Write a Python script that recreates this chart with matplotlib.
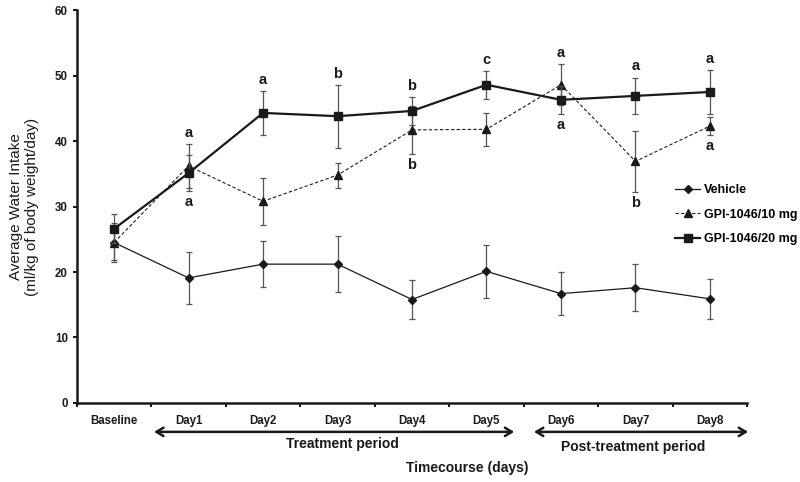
import numpy as np
import matplotlib
matplotlib.use("Agg")
import matplotlib.pyplot as plt
import matplotlib.transforms as mtransforms

plt.rcParams["font.family"] = ["Liberation Sans", "DejaVu Sans"]

days = ["Baseline", "Day1", "Day2", "Day3", "Day4", "Day5", "Day6", "Day7", "Day8"]

vehicle = [24.5, 19.1, 21.2, 21.2, 15.8, 20.1, 16.7, 17.6, 15.9]
vehicle_err = [3.0, 4.0, 3.5, 4.3, 3.0, 4.0, 3.3, 3.6, 3.1]

gpi10 = [24.5, 36.2, 30.8, 34.8, 41.7, 41.8, 48.6, 36.9, 42.3]
gpi10_err = [2.7, 3.3, 3.6, 1.9, 3.7, 2.5, 3.1, 4.7, 1.4]

gpi20 = [26.6, 35.1, 44.3, 43.8, 44.6, 48.6, 46.3, 46.9, 47.5]
gpi20_err = [2.2, 2.7, 3.4, 4.8, 2.1, 2.1, 2.1, 2.8, 3.3]

# (day index, series, side, letter)
letters = [
    (1, "g10", "top", "a"), (1, "g20", "bottom", "a"),
    (2, "g20", "top", "a"),
    (3, "g20", "top", "b"),
    (4, "g20", "top", "b"), (4, "g10", "bottom", "b"),
    (5, "g20", "top", "c"),
    (6, "g10", "top", "a"), (6, "g20", "bottom", "a"),
    (7, "g20", "top", "a"), (7, "g10", "bottom", "b"),
    (8, "g20", "top", "a"), (8, "g10", "bottom", "a"),
]

ink = "#1a1a1a"
x = np.arange(len(days))

fig = plt.figure(figsize=(8, 4.82), dpi=100)
ax = fig.add_axes([0.096, 0.164, 0.838, 0.815])

err_kw = dict(ecolor="#555555", elinewidth=0.9, capsize=2.5, capthick=0.9)
c_veh = ax.errorbar(x, vehicle, yerr=vehicle_err, color=ink, lw=0.9, marker="D",
                    ms=4.5, zorder=3, **err_kw)
c_10 = ax.errorbar(x, gpi10, yerr=gpi10_err, color=ink, lw=0.8, ls=(0, (3, 2)),
                   marker="^", ms=6, zorder=4, **err_kw)
c_20 = ax.errorbar(x, gpi20, yerr=gpi20_err, color=ink, lw=1.6, marker="s",
                   ms=5.5, zorder=5, **err_kw)

series = {"g10": (gpi10, gpi10_err), "g20": (gpi20, gpi20_err)}
for i, key, side, letter in letters:
    vals, errs = series[key]
    if side == "top":
        y, dy = vals[i] + errs[i], 8
    else:
        y, dy = vals[i] - errs[i], -8
    ax.annotate(letter, (i, y), xytext=(0, dy), textcoords="offset points",
                ha="center", va="center", fontsize=10.5, fontweight="bold",
                color=ink)

ax.set_xlim(-0.5, len(days) - 0.5)
ax.set_ylim(0, 60)
ax.set_yticks(np.arange(0, 61, 10))
ax.set_xticks(np.arange(-0.5, len(days), 1))
ax.set_xticklabels([])
ax.set_xticks(x, minor=True)
ax.set_xticklabels(days, minor=True)
ax.tick_params(axis="x", which="major", length=3, width=1.5, color=ink)
ax.tick_params(axis="x", which="minor", length=0, pad=9, labelsize=8.3)
ax.tick_params(axis="y", length=3, width=1.5, color=ink, labelsize=8.3)
for lab in ax.get_xticklabels(minor=True) + ax.get_yticklabels():
    lab.set_fontweight("bold")
    lab.set_color(ink)

for side in ["top", "right"]:
    ax.spines[side].set_visible(False)
for side in ["left", "bottom"]:
    ax.spines[side].set_linewidth(1.8)
    ax.spines[side].set_color(ink)

ax.set_ylabel("Average Water Intake\n(ml/kg of body weight/day)", fontsize=11,
              color=ink, labelpad=11)

leg = ax.legend([c_veh[0], c_10[0], c_20[0]],
                ["Vehicle", "GPI-1046/10 mg", "GPI-1046/20 mg"],
                loc="upper left", bbox_to_anchor=(0.885, 0.57), frameon=False,
                fontsize=9, handlelength=2.0, handletextpad=0.3,
                labelspacing=1.0, borderaxespad=0)
for t in leg.get_texts():
    t.set_fontweight("bold")

trans = mtransforms.blended_transform_factory(ax.transData, fig.transFigure)
arrow_kw = dict(arrowstyle="<->,head_length=0.5,head_width=0.3", lw=1.8,
                color=ink)
ax.annotate("", xy=(0.5, 0.104), xytext=(5.41, 0.104), xycoords=trans,
            textcoords=trans, arrowprops=arrow_kw, annotation_clip=False)
ax.annotate("", xy=(5.6, 0.104), xytext=(8.55, 0.104), xycoords=trans,
            textcoords=trans, arrowprops=arrow_kw, annotation_clip=False)
ax.text(3.06, 0.078, "Treatment period", transform=trans, ha="center",
        va="center", fontsize=10, fontweight="bold", color=ink)
ax.text(6.97, 0.073, "Post-treatment period", transform=trans, ha="center",
        va="center", fontsize=10, fontweight="bold", color=ink)
fig.text(0.584, 0.029, "Timecourse (days)", ha="center", va="center",
         fontsize=10, fontweight="bold", color=ink)

fig.savefig("out.png", dpi=100)
